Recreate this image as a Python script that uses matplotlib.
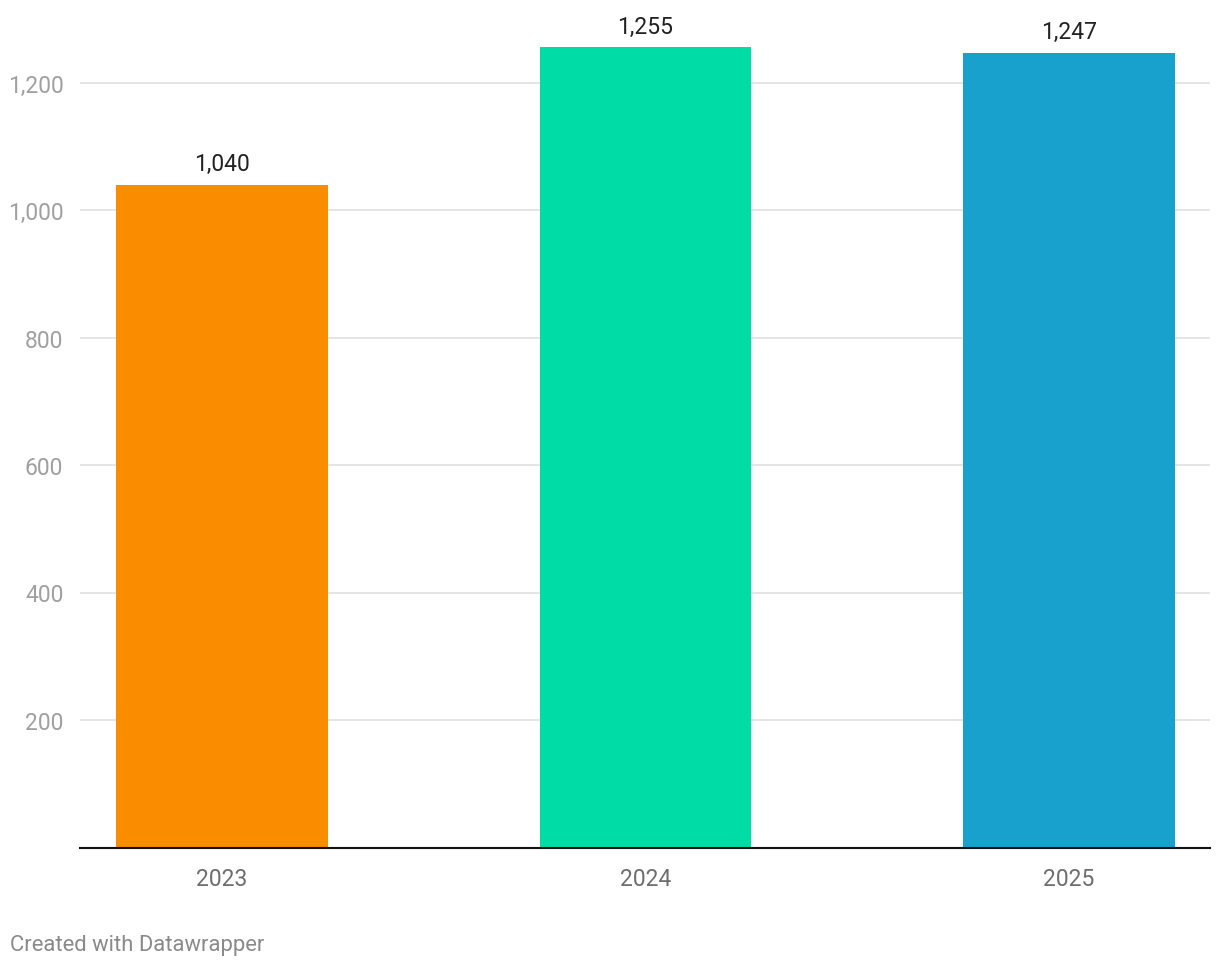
import matplotlib.pyplot as plt

plt.rcParams['font.family'] = ['Roboto', 'DejaVu Sans']

years = ['2023', '2024', '2025']
values = [1040, 1255, 1247]
colors = ['#fa8c00', '#00dca6', '#18a1cd']
yticks = [200, 400, 600, 800, 1000, 1200]

W, H = 1220, 970
fig = plt.figure(figsize=(W / 100, H / 100), dpi=100)
fig.patch.set_facecolor('white')

# axes placed in pixel terms: left 80, right 1210, baseline y=848
ax = fig.add_axes([80 / W, (H - 848.5) / H, 1130 / W, 828.75 / H])
x = range(len(years))
ax.bar(x, values, width=0.5, color=colors, zorder=2)
ax.set_xlim(-0.335, 2.333)
ax.set_ylim(0, 1300)

ax.set_yticks(yticks)
ax.set_yticklabels([f'{v:,}' for v in yticks])
ax.grid(axis='y', color='#e0e0e0', linewidth=1.2, zorder=0)
ax.set_xticks(list(x))
ax.set_xticklabels(years)

for s in ['top', 'right', 'left']:
    ax.spines[s].set_visible(False)
ax.spines['bottom'].set_color('#111111')
ax.spines['bottom'].set_linewidth(1.5)
ax.spines['bottom'].set_zorder(3)

ax.tick_params(axis='y', length=0, pad=12, labelsize=16.5, labelcolor='#a0a0a0')
ax.tick_params(axis='x', length=0, pad=14, labelsize=16.5, labelcolor='#6e6e6e')

for i, v in enumerate(values):
    ax.annotate(f'{v:,}', (i, v), xytext=(0, 7), textcoords='offset points',
                ha='center', va='bottom', fontsize=16.5, color='#222222')

fig.text(10 / W, 1 - 946 / H, 'Created with Datawrapper', ha='left', va='center',
         fontsize=15.8, color='#8a8a8a')

fig.savefig('out.png', dpi=100, facecolor='white')
